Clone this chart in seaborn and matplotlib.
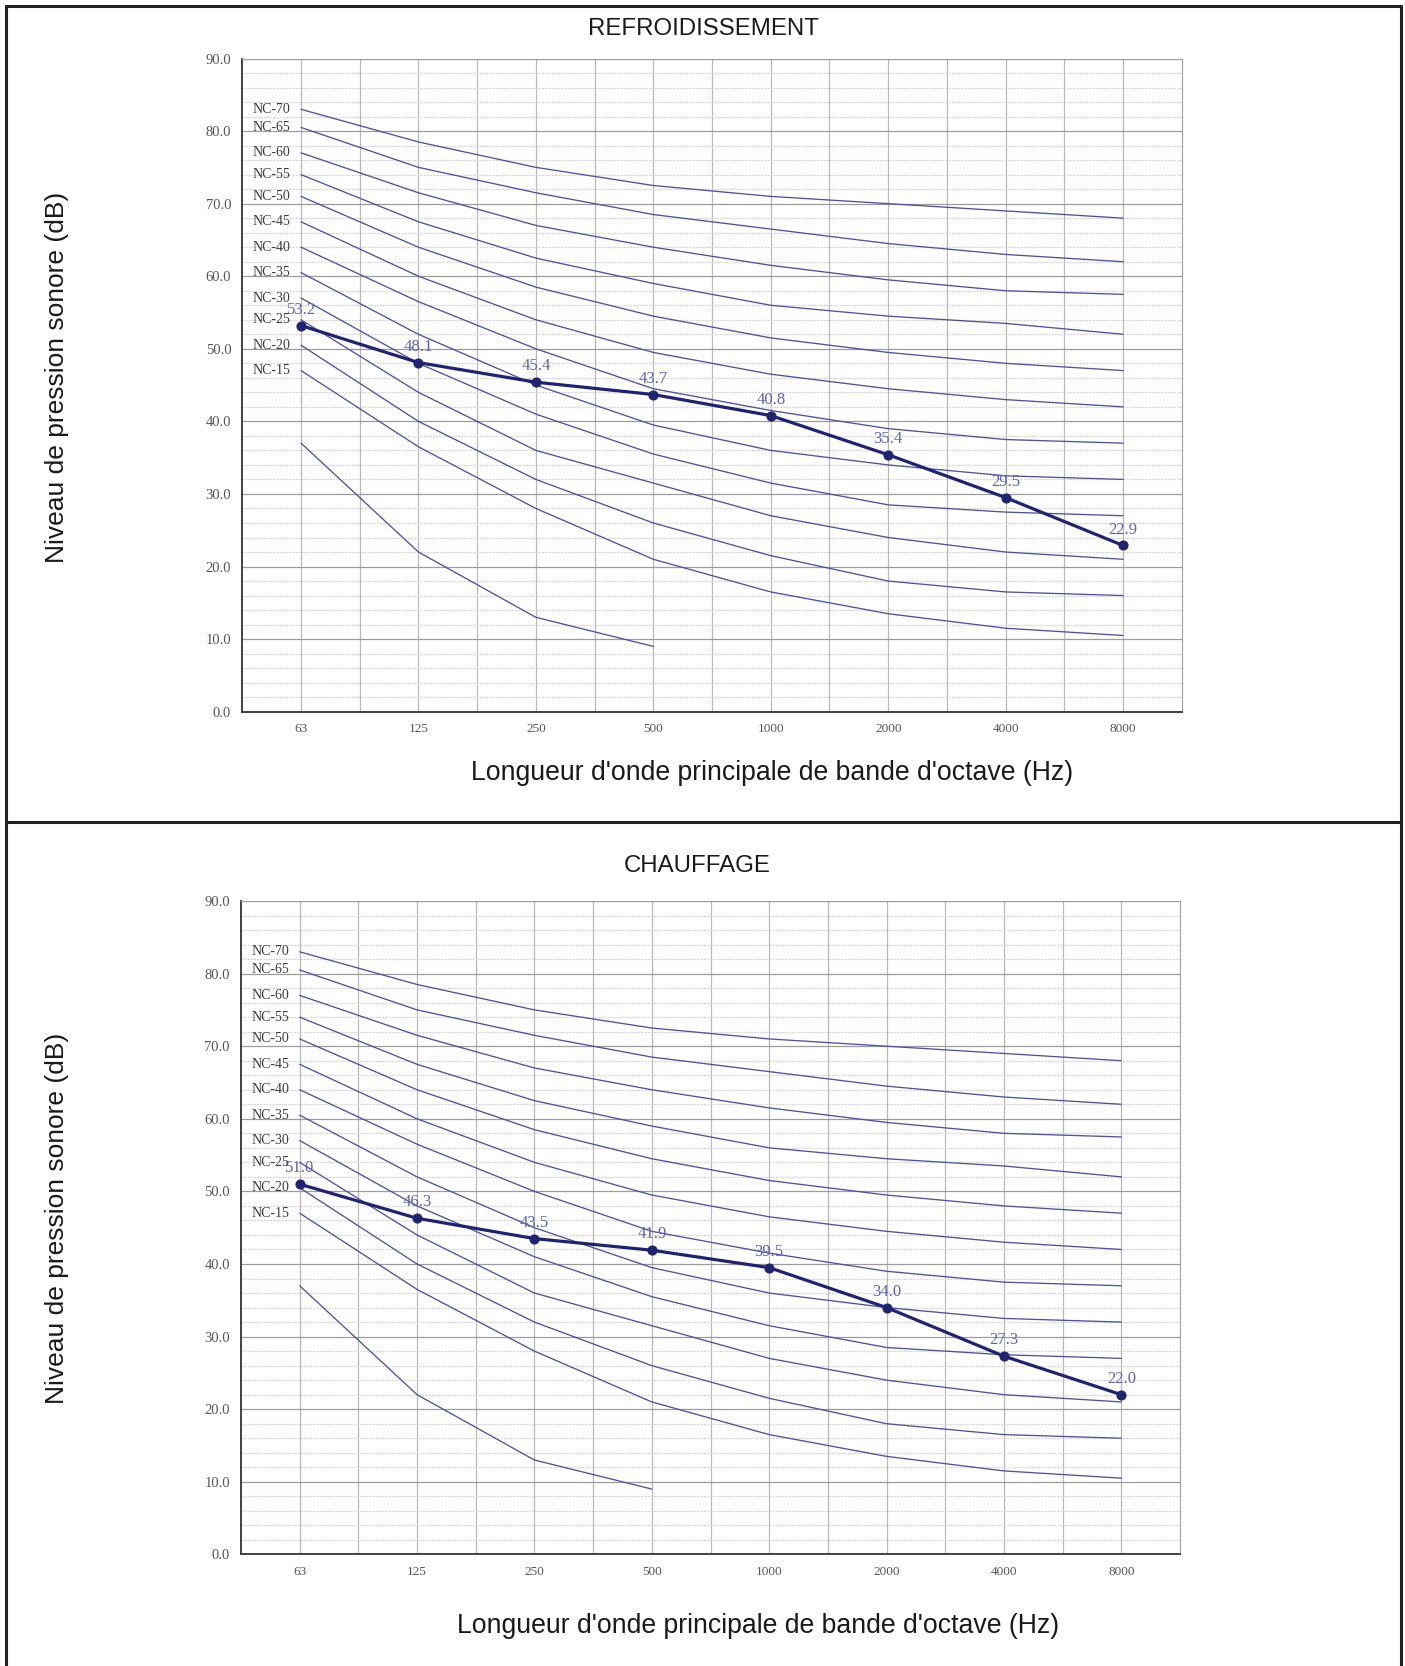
import numpy as np
import pandas as pd
import matplotlib
matplotlib.use("Agg")
import matplotlib.pyplot as plt
from matplotlib.lines import Line2D
from matplotlib.ticker import MultipleLocator, FixedLocator
import seaborn as sns

# Octave band centre frequencies (Hz)
bands = ["63", "125", "250", "500", "1000", "2000", "4000", "8000"]

# Noise criterion reference curves (dB per octave band)
nc_70 = [83.0, 78.5, 75.0, 72.5, 71.0, 70.0, 69.0, 68.0]
nc_65 = [80.5, 75.0, 71.5, 68.5, 66.5, 64.5, 63.0, 62.0]
nc_60 = [77.0, 71.5, 67.0, 64.0, 61.5, 59.5, 58.0, 57.5]
nc_55 = [74.0, 67.5, 62.5, 59.0, 56.0, 54.5, 53.5, 52.0]
nc_50 = [71.0, 64.0, 58.5, 54.5, 51.5, 49.5, 48.0, 47.0]
nc_45 = [67.5, 60.0, 54.0, 49.5, 46.5, 44.5, 43.0, 42.0]
nc_40 = [64.0, 56.5, 50.0, 44.5, 41.5, 39.0, 37.5, 37.0]
nc_35 = [60.5, 52.0, 45.0, 39.5, 36.0, 34.0, 32.5, 32.0]
nc_30 = [57.0, 48.0, 41.0, 35.5, 31.5, 28.5, 27.5, 27.0]
nc_25 = [54.0, 44.0, 36.0, 31.5, 27.0, 24.0, 22.0, 21.0]
nc_20 = [50.5, 40.0, 32.0, 26.0, 21.5, 18.0, 16.5, 16.0]
nc_15 = [47.0, 36.5, 28.0, 21.0, 16.5, 13.5, 11.5, 10.5]
nc_low = [37.0, 22.0, 13.0, 9.0]  # unlabelled lowest curve, up to 500 Hz

nc_labels = ["NC-70", "NC-65", "NC-60", "NC-55", "NC-50", "NC-45",
             "NC-40", "NC-35", "NC-30", "NC-25", "NC-20", "NC-15"]
nc_curves = [nc_70, nc_65, nc_60, nc_55, nc_50, nc_45,
             nc_40, nc_35, nc_30, nc_25, nc_20, nc_15]

# Measured sound pressure levels
cooling = [53.2, 48.1, 45.4, 43.7, 40.8, 35.4, 29.5, 22.9]
heating = [51.0, 46.3, 43.5, 41.9, 39.5, 34.0, 27.3, 22.0]

titles = ["REFROIDISSEMENT", "CHAUFFAGE"]
x_label = "Longueur d'onde principale de bande d'octave (Hz)"
y_label = "Niveau de pression sonore (dB)"

NC_COLOR = "#4e529f"
NAVY = "#1f2371"
VALUE_COLOR = "#5a64b6"
SERIF = ["Liberation Serif", "DejaVu Serif"]
SANS = ["Liberation Sans", "DejaVu Sans"]

sns.set_style("white")
plt.rcParams["font.family"] = SANS

# long table of the reference curves
rows = []
for name, vals in list(zip(nc_labels, nc_curves)) + [("low", nc_low)]:
    for i, v in enumerate(vals):
        rows.append({"curve": name, "pos": i, "level": v})
nc_df = pd.DataFrame(rows)
curve_palette = {c: NC_COLOR for c in nc_df["curve"].unique()}

W, H = 1405, 1666
fig = plt.figure(figsize=(W / 100, H / 100), dpi=100)
fig.patch.set_facecolor("white")

# axes rectangles in pixels: left, top, right, bottom
boxes = [(242.3, 58.5, 1181.8, 711.7), (241.0, 901.0, 1180.0, 1554.4)]
title_pos = [(703.6, 29.0), (697.0, 866.0)]
xlabel_pos = [(771.6, 773.0), (757.8, 1626.0)]
ylabel_pos = [(57.0, 377.0), (57.0, 1218.0)]

for k, series in enumerate([cooling, heating]):
    l, t, r, b = boxes[k]
    ax = fig.add_axes([l / W, 1 - b / H, (r - l) / W, (b - t) / H])
    ax.set_axisbelow(True)

    sns.lineplot(data=nc_df, x="pos", y="level", hue="curve",
                 palette=curve_palette, estimator=None, sort=False,
                 legend=False, linewidth=0.95, ax=ax)

    meas = pd.DataFrame({"pos": np.arange(len(bands)), "level": series})
    sns.lineplot(data=meas, x="pos", y="level", color=NAVY, linewidth=2.3,
                 marker="o", markersize=6.5, markeredgecolor=NAVY,
                 markeredgewidth=0.8, estimator=None, ax=ax)

    for p, v in zip(meas["pos"], meas["level"]):
        ax.annotate(f"{v:.1f}", (p, v), xytext=(0, 11.5),
                    textcoords="offset points", ha="center", va="center",
                    fontsize=12, color=VALUE_COLOR, family=SERIF)

    for name, vals in zip(nc_labels, nc_curves):
        ax.annotate(name, (0, vals[0]), xytext=(-7.5, 0),
                    textcoords="offset points", ha="right", va="center",
                    fontsize=10, color="#3c3c3c", family=SERIF)

    ax.set_xlim(-0.5, 7.5)
    ax.set_ylim(0, 90)
    ax.set_xticks(np.arange(len(bands)))
    ax.set_xticklabels(bands, family=SERIF)
    ax.xaxis.set_minor_locator(FixedLocator(np.arange(0.5, 7.0, 1.0)))
    yt = np.arange(0, 91, 10)
    ax.set_yticks(yt)
    ax.set_yticklabels([f"{v:.1f}" for v in yt], family=SERIF)
    ax.yaxis.set_minor_locator(MultipleLocator(2))

    ax.tick_params(axis="x", which="major", length=0, pad=8,
                   labelsize=9.5, labelcolor="#555555")
    ax.tick_params(axis="x", which="minor", length=4, direction="in",
                   color="#333333", width=1)
    ax.tick_params(axis="y", which="major", length=4, direction="out",
                   color="#333333", width=1, pad=4,
                   labelsize=10.5, labelcolor="#555555")
    ax.tick_params(axis="y", which="minor", length=0)

    ax.grid(which="major", axis="y", color="#9c9c9c", linewidth=0.9)
    ax.grid(which="minor", axis="y", color="#d2d2d2", linewidth=0.9,
            linestyle=(0, (1.5, 1)))
    ax.grid(which="both", axis="x", color="#b8b8b8", linewidth=0.9)

    for side in ["left", "bottom"]:
        ax.spines[side].set_color("#333333")
        ax.spines[side].set_linewidth(1.3)
    for side in ["top", "right"]:
        ax.spines[side].set_color("#a0a0a0")
        ax.spines[side].set_linewidth(0.8)

    ax.set_xlabel("")
    ax.set_ylabel("")

    tx, ty = title_pos[k]
    fig.text(tx / W, 1 - ty / H, titles[k], ha="center", va="center",
             fontsize=17.3, color="#1a1a1a", family=SANS)
    lx, ly = xlabel_pos[k]
    fig.text(lx / W, 1 - ly / H, x_label, ha="center", va="center",
             fontsize=19.2, color="#1a1a1a", family=SANS)
    yx, yy = ylabel_pos[k]
    fig.text(yx / W, 1 - yy / H, y_label, ha="center", va="center",
             rotation=90, fontsize=19.0, color="#1a1a1a", family=SANS)

# table frame around the two panels
frame_kw = dict(transform=fig.transFigure, color="#222222", linewidth=2.2)
x0, x1 = 5.5 / W, 1400.5 / W
y_top = 1 - 6.0 / H
y_mid = 1 - 822.0 / H
fig.add_artist(Line2D([x0, x0], [0, y_top], **frame_kw))
fig.add_artist(Line2D([x1, x1], [0, y_top], **frame_kw))
fig.add_artist(Line2D([x0, x1], [y_top, y_top], **frame_kw))
fig.add_artist(Line2D([x0, x1], [y_mid, y_mid], **frame_kw))

fig.savefig("out.png", dpi=100, facecolor="white")
